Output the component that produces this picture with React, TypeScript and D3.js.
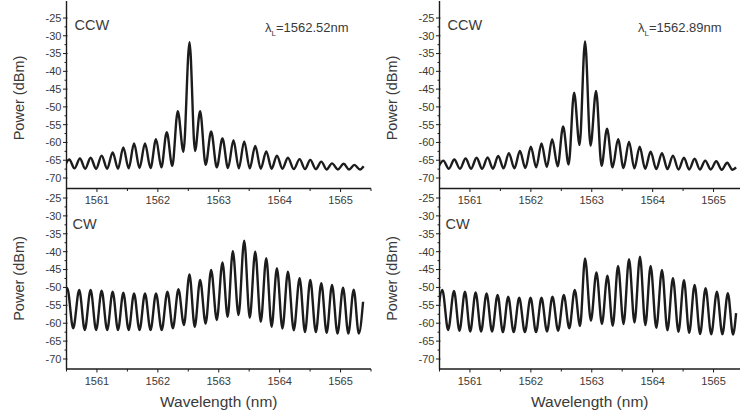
import React from "react";
import * as d3 from "d3";

// ---------- data ----------
const xTickValues = [1561, 1562, 1563, 1564, 1565];
const xMinorValues = [1560.5, 1561.5, 1562.5, 1563.5, 1564.5, 1565.5];
const yTickValues = [-25, -30, -35, -40, -45, -50, -55, -60, -65, -70];
const yMinorValues = [-27.5, -32.5, -37.5, -42.5, -47.5, -52.5, -57.5, -62.5, -67.5];

// Top-left: CCW, λL = 1562.52 nm
const tlPeakWl = [1560.545, 1560.72, 1560.896, 1561.077, 1561.258, 1561.433, 1561.609, 1561.789, 1561.97, 1562.146, 1562.327, 1562.52, 1562.694, 1562.875, 1563.061, 1563.242, 1563.418, 1563.599, 1563.78, 1563.955, 1564.136, 1564.328, 1564.503, 1564.684, 1564.86, 1565.051, 1565.227];
const tlPeakDbm = [-64.8, -64.5, -64.3, -63.7, -62.8, -61.4, -60.3, -60.3, -59.1, -57.1, -51.2, -31.8, -51.2, -56.9, -58.9, -59.4, -59.7, -61.0, -62.5, -63.7, -64.3, -64.7, -64.9, -65.4, -65.9, -66.0, -66.3];
const tlTroughWl = [1560.46, 1560.632, 1560.808, 1560.987, 1561.168, 1561.346, 1561.521, 1561.699, 1561.88, 1562.058, 1562.237, 1562.42, 1562.61, 1562.785, 1562.968, 1563.152, 1563.33, 1563.509, 1563.69, 1563.868, 1564.046, 1564.232, 1564.416, 1564.594, 1564.772, 1564.956, 1565.139, 1565.32, 1565.38];
const tlTroughDbm = [-67.2, -67.3, -67.4, -67.4, -67.4, -67.4, -67.3, -67.2, -67.2, -67.0, -66.6, -62.6, -62.4, -66.3, -67.0, -67.2, -67.3, -67.3, -67.4, -67.4, -67.4, -67.5, -67.5, -67.5, -67.6, -67.6, -67.6, -67.6, -66.7];

// Top-right: CCW, λL = 1562.89 nm
const trPeakWl = [1560.563, 1560.743, 1560.929, 1561.109, 1561.29, 1561.464, 1561.639, 1561.82, 1562.0, 1562.175, 1562.35, 1562.53, 1562.71, 1562.89, 1563.071, 1563.251, 1563.432, 1563.612, 1563.787, 1563.967, 1564.153, 1564.333, 1564.514, 1564.689, 1564.863, 1565.044, 1565.224];
const trPeakDbm = [-65.1, -64.8, -64.5, -64.3, -64.2, -63.8, -63.0, -62.4, -61.2, -60.3, -59.1, -55.5, -46.0, -31.6, -45.5, -56.1, -59.1, -59.8, -61.2, -62.6, -63.0, -63.7, -64.3, -64.6, -65.1, -65.3, -65.7];
const trTroughWl = [1560.47, 1560.653, 1560.836, 1561.019, 1561.2, 1561.377, 1561.552, 1561.73, 1561.91, 1562.088, 1562.263, 1562.44, 1562.62, 1562.8, 1562.98, 1563.161, 1563.342, 1563.522, 1563.7, 1563.877, 1564.06, 1564.243, 1564.424, 1564.6, 1564.776, 1564.954, 1565.134, 1565.31, 1565.37];
const trTroughDbm = [-67.3, -67.4, -67.4, -67.4, -67.4, -67.4, -67.3, -67.3, -67.2, -67.0, -66.9, -66.7, -66.2, -60.7, -60.9, -66.6, -67.0, -67.2, -67.3, -67.4, -67.5, -67.5, -67.6, -67.6, -67.6, -67.6, -67.7, -67.7, -67.0];

// Bottom-left: CW
const blPeakWl = [1560.512, 1560.709, 1560.896, 1561.077, 1561.258, 1561.433, 1561.609, 1561.789, 1561.97, 1562.157, 1562.338, 1562.519, 1562.694, 1562.875, 1563.061, 1563.231, 1563.418, 1563.599, 1563.78, 1563.955, 1564.136, 1564.328, 1564.503, 1564.684, 1564.86, 1565.041, 1565.216];
const blPeakDbm = [-50.2, -50.7, -50.7, -50.9, -51.2, -51.5, -51.7, -51.7, -51.7, -51.2, -50.5, -46.4, -47.9, -45.1, -43.0, -39.9, -36.9, -40.0, -41.8, -44.6, -45.6, -47.4, -47.9, -48.8, -49.3, -50.1, -50.6];
const blTroughWl = [1560.42, 1560.61, 1560.8, 1560.987, 1561.168, 1561.346, 1561.521, 1561.699, 1561.88, 1562.063, 1562.247, 1562.428, 1562.606, 1562.785, 1562.968, 1563.146, 1563.325, 1563.509, 1563.69, 1563.868, 1564.046, 1564.232, 1564.416, 1564.594, 1564.772, 1564.95, 1565.128, 1565.3, 1565.37];
const blTroughDbm = [-61.0, -61.4, -61.9, -61.9, -61.9, -61.9, -61.9, -61.9, -61.9, -61.9, -61.4, -60.5, -61.0, -60.1, -59.1, -58.2, -57.7, -58.5, -59.6, -61.0, -61.5, -62.0, -62.5, -62.5, -62.7, -62.9, -62.9, -62.9, -54.0];

// Bottom-right: CW
const brPeakWl = [1560.546, 1560.738, 1560.918, 1561.093, 1561.273, 1561.454, 1561.628, 1561.809, 1561.995, 1562.175, 1562.355, 1562.541, 1562.721, 1562.89, 1563.077, 1563.257, 1563.432, 1563.612, 1563.792, 1563.967, 1564.153, 1564.333, 1564.514, 1564.689, 1564.869, 1565.055, 1565.235];
const brPeakDbm = [-50.7, -51.0, -51.2, -51.4, -51.7, -52.1, -52.6, -52.9, -52.9, -52.9, -52.6, -52.1, -50.7, -41.9, -45.8, -46.7, -44.0, -42.1, -41.4, -44.0, -45.1, -47.4, -48.0, -49.3, -50.2, -51.2, -51.6];
const brTroughWl = [1560.45, 1560.642, 1560.828, 1561.005, 1561.183, 1561.363, 1561.541, 1561.718, 1561.902, 1562.085, 1562.265, 1562.448, 1562.631, 1562.808, 1562.986, 1563.167, 1563.345, 1563.522, 1563.702, 1563.88, 1564.06, 1564.243, 1564.424, 1564.6, 1564.779, 1564.962, 1565.145, 1565.32, 1565.37];
const brTroughDbm = [-62.0, -61.9, -62.1, -62.3, -62.3, -62.3, -62.5, -62.5, -62.5, -62.5, -62.3, -62.1, -61.4, -60.8, -59.3, -60.2, -60.7, -60.2, -59.8, -60.5, -61.3, -62.0, -62.4, -62.7, -63.0, -63.1, -63.1, -63.2, -57.2];

const panelLabels = ["CCW", "CCW", "CW", "CW"];
const laserLabels = ["1562.52nm", "1562.89nm"];
const yTitle = "Power (dBm)";
const xTitle = "Wavelength (nm)";

// ---------- layout ----------
const W = 740;
const H = 412;
const FONT = "'Liberation Sans', Arial, Helvetica, sans-serif";
const INK = "#1c1c1c";
const TEXT = "#3a3a3a";

type Col = { axisX: number; right: number };
type Row = { yTop: number; yBottom: number; axisY: number; top: number };
const cols: Col[] = [
  { axisX: 66.5, right: 371 },
  { axisX: 439.5, right: 745 },
];
const rows: Row[] = [
  { yTop: 18, yBottom: 178, axisY: 188.5, top: 1 },
  { yTop: 198, yBottom: 359, axisY: 369, top: 189 },
];

function buildPoints(pw: number[], pd: number[], tw: number[], td: number[]) {
  const pts: [number, number][] = [];
  pw.forEach((w, i) => pts.push([w, pd[i]]));
  tw.forEach((w, i) => pts.push([w, td[i]]));
  pts.sort((a, b) => a[0] - b[0]);
  return pts;
}

const series = [
  buildPoints(tlPeakWl, tlPeakDbm, tlTroughWl, tlTroughDbm),
  buildPoints(trPeakWl, trPeakDbm, trTroughWl, trTroughDbm),
  buildPoints(blPeakWl, blPeakDbm, blTroughWl, blTroughDbm),
  buildPoints(brPeakWl, brPeakDbm, brTroughWl, brTroughDbm),
];

function Panel({ idx }: { idx: number }) {
  const c = cols[idx % 2];
  const r = rows[Math.floor(idx / 2)];
  const x = d3.scaleLinear().domain([1560.5, 1565.5]).range([c.axisX, c.axisX + 5 * 60.9]);
  const y = d3.scaleLinear().domain([-25, -70]).range([r.yTop, r.yBottom]);
  const line = d3
    .line<[number, number]>()
    .x((d) => x(d[0]))
    .y((d) => y(d[1]))
    .curve(d3.curveMonotoneX);
  const clipId = `clip${idx}`;
  const isTop = idx < 2;
  const isLeft = idx % 2 === 0;
  return (
    <g>
      <defs>
        <clipPath id={clipId}>
          <rect x={c.axisX} y={r.top} width={c.right - c.axisX} height={r.axisY - r.top} />
        </clipPath>
      </defs>
      <path
        d={line(series[idx]) || ""}
        fill="none"
        stroke={INK}
        strokeWidth={2.4}
        strokeLinejoin="round"
        clipPath={`url(#${clipId})`}
      />
      {/* y axis */}
      <line x1={c.axisX} x2={c.axisX} y1={r.top} y2={r.axisY + 0.5} stroke={INK} strokeWidth={1.4} />
      {yTickValues.map((v) => (
        <g key={v}>
          <line x1={c.axisX - 3.5} x2={c.axisX + 1} y1={y(v)} y2={y(v)} stroke={INK} strokeWidth={1} />
          <text
            x={c.axisX - 5}
            y={y(v)}
            dy="0.35em"
            textAnchor="end"
            fontSize={11}
            fontFamily={FONT}
            fill={TEXT}
          >
            {String(v)}
          </text>
        </g>
      ))}
      {yMinorValues.map((v) => (
        <line key={v} x1={c.axisX - 2} x2={c.axisX} y1={y(v)} y2={y(v)} stroke={INK} strokeWidth={1} />
      ))}
      {/* x axis */}
      <line x1={c.axisX} x2={c.right} y1={r.axisY} y2={r.axisY} stroke={INK} strokeWidth={1.4} />
      {xTickValues.map((v) => (
        <g key={v}>
          <line x1={x(v)} x2={x(v)} y1={r.axisY} y2={r.axisY + 3.5} stroke={INK} strokeWidth={1} />
          <text
            x={x(v)}
            y={r.axisY + 12}
            dy="0.35em"
            textAnchor="middle"
            fontSize={11}
            fontFamily={FONT}
            fill={TEXT}
          >
            {String(v)}
          </text>
        </g>
      ))}
      {xMinorValues.map((v) => (
        <line key={v} x1={x(v)} x2={x(v)} y1={r.axisY} y2={r.axisY + 2.5} stroke={INK} strokeWidth={1} />
      ))}
      {/* y title */}
      <text
        transform={`translate(${c.axisX - 48},${(r.yTop + r.yBottom) / 2}) rotate(-90)`}
        textAnchor="middle"
        dy="0.35em"
        fontSize={14.5}
        fontFamily={FONT}
        fill={TEXT}
      >
        {yTitle}
      </text>
      {/* panel label */}
      <text
        x={c.axisX + (isTop ? 8 : 6)}
        y={isTop ? 25 : 224}
        dy="0.35em"
        fontSize={14.5}
        fontFamily={FONT}
        fill={TEXT}
      >
        {panelLabels[idx]}
      </text>
      {isTop && (
        <text x={isLeft ? 265 : 638} y={27} dy="0.35em" fontSize={13} fontFamily={FONT} fill={TEXT}>
          λ<tspan fontSize={8} dy="4">L</tspan>
          <tspan dy="-4">={laserLabels[idx]}</tspan>
        </text>
      )}
      {!isTop && (
        <text
          x={(c.axisX + Math.min(c.right, W)) / 2}
          y={402}
          dy="0.35em"
          textAnchor="middle"
          fontSize={15.5}
          fontFamily={FONT}
          fill={TEXT}
        >
          {xTitle}
        </text>
      )}
    </g>
  );
}

export default function App() {
  return (
    <svg
      width={W}
      height={H}
      viewBox={`0 0 ${W} ${H}`}
      style={{ position: "absolute", left: 0, top: 0, background: "#fff" }}
    >
      <rect x={0} y={0} width={W} height={H} fill="#fff" />
      {[0, 1, 2, 3].map((i) => (
        <Panel key={i} idx={i} />
      ))}
    </svg>
  );
}
